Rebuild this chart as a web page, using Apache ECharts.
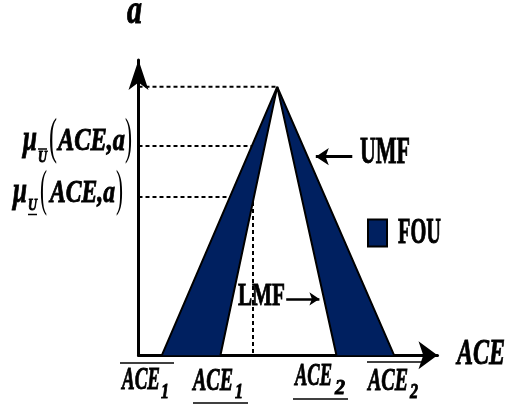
<!DOCTYPE html>
<html>
<head>
<meta charset="utf-8">
<script src="https://cdn.jsdelivr.net/npm/echarts@6/dist/echarts.min.js"></script>
<style>
  html, body { margin: 0; padding: 0; background: #fff; }
  #chart { width: 512px; height: 406px; }
</style>
</head>
<body>
<div id="chart"></div>
<script>
// Interval type-2 fuzzy set over ACE: upper and lower triangular membership functions
const umf = [[0.78, 0], [4.64, 1], [8.55, 0]];
const lmf = [[2.74, 0], [4.64, 1], [6.62, 0]];
// Footprint of uncertainty: the two bands lying between UMF and LMF
const fouBands = [
  [umf[0], umf[1], lmf[0]],
  [lmf[2], umf[1], umf[2]]
];
// Membership grades at one ACE value
const cutX = 3.83;
const muUpper = 0.78;
const muLower = 0.59;
const guides = [
  [[0, 1], umf[1]],
  [[0, muUpper], [cutX, muUpper]],
  [[0, muLower], [cutX, muLower]],
  [[cutX, muUpper], [cutX, 0]]
];
// Pointer arrows naming the two membership functions
const umfPointer = [[7.15, 0.74], [5.93, 0.74]];
const lmfPointer = [[4.94, 0.21], [6.05, 0.21]];
const seriesNames = ['FOU', 'UMF', 'LMF'];

const NAVY = '#002060';
const INK = '#000';
const FAMILY = 'Liberation Serif';

const chart = echarts.init(document.getElementById('chart'), null, { renderer: 'canvas' });

const axisCommon = {
  type: 'value',
  axisTick: { show: false },
  axisLabel: { show: false },
  splitLine: { show: false }
};

const option = {
  animation: false,
  backgroundColor: '#fff',
  grid: { left: 138.5, right: 74.5, top: 60, bottom: 50.7, containLabel: false, outerBoundsMode: 'none' },
  xAxis: Object.assign({}, axisCommon, {
    min: 0, max: 10,
    axisLine: { show: true, symbol: ['none', 'arrow'], symbolSize: [21, 19], lineStyle: { color: INK, width: 3 } }
  }),
  yAxis: Object.assign({}, axisCommon, {
    min: 0, max: 1.1,
    axisLine: { show: true, symbol: ['none', 'arrow'], symbolSize: [15, 30], lineStyle: { color: INK, width: 3 } }
  }),
  legend: {
    data: [seriesNames[0]],
    left: 367, top: 218.5, padding: 0,
    itemWidth: 19, itemHeight: 27, icon: 'rect',
    itemStyle: { borderColor: INK, borderWidth: 2 },
    formatter: () => '',
    selectedMode: false
  },
  series: [
    {
      type: 'custom',
      name: seriesNames[0],
      itemStyle: { color: NAVY },
      data: fouBands.map((b, i) => [b[1][0], i]),
      renderItem: (params, api) => ({
        type: 'polygon',
        shape: { points: fouBands[params.dataIndex].map(p => api.coord(p)) },
        style: { fill: NAVY }
      }),
      z: 2
    },
    {
      type: 'line',
      name: seriesNames[1],
      data: umf,
      symbol: 'none',
      lineStyle: { color: INK, width: 2 },
      z: 3,
      markLine: {
        silent: true,
        symbol: ['none', 'arrow'],
        symbolSize: [13, 13],
        label: { show: false },
        lineStyle: { color: INK, width: 3, type: 'solid' },
        data: [[{ coord: umfPointer[0] }, { coord: umfPointer[1] }]]
      }
    },
    {
      type: 'line',
      name: seriesNames[2],
      data: lmf,
      symbol: 'none',
      lineStyle: { color: INK, width: 2 },
      z: 3,
      markLine: {
        silent: true,
        symbol: ['none', 'arrow'],
        symbolSize: [10, 10],
        label: { show: false },
        lineStyle: { color: INK, width: 2.5, type: 'solid' },
        data: [[{ coord: lmfPointer[0] }, { coord: lmfPointer[1] }]]
      }
    }
  ].concat(guides.map(g => ({
    type: 'line',
    data: g,
    symbol: 'none',
    silent: true,
    lineStyle: { color: INK, width: 2, type: [4, 3] },
    z: 1
  })))
};
chart.setOption(option);

// ---- Typeset annotations (condensed heavy serif, drawn as graphic text) ----
const measureCtx = document.createElement('canvas').getContext('2d');
function widthOf(text, style, weight, size) {
  measureCtx.font = style + ' ' + weight + ' ' + size + 'px "' + FAMILY + '"';
  return measureCtx.measureText(text).width;
}

const BI = ['italic', 'bold'], B = ['normal', 'bold'], R = ['normal', 'normal'];
// [text, style, size, left x, drawn width, baseline y]
const pieces = [
  ['a', BI, 39, 127, 15, 26],
  ['ACE', BI, 35, 457, 48, 367],
  ['UMF', B, 37, 360, 50, 166],
  ['FOU', B, 36, 398, 43, 246],
  ['LMF', B, 32, 238, 47, 308],
  // upper membership grade
  ['\u03bc', BI, 36, 23, 14, 153],
  ['U', BI, 17, 38, 9, 163],
  ['(', R, 51, 49, 8, 157],
  ['ACE,a', BI, 31, 58, 67, 153],
  [')', R, 51, 125, 7, 157],
  // lower membership grade
  ['\u03bc', BI, 36, 13, 14, 205],
  ['U', BI, 17, 28, 9, 211],
  ['(', R, 51, 40, 7, 209],
  ['ACE,a', BI, 31, 50, 65, 205],
  [')', R, 51, 116, 7, 209],
  // interval end points on the ACE axis
  ['ACE', BI, 32, 122, 38, 392], ['1', BI, 20, 161, 8, 400],
  ['ACE', BI, 32, 193, 40, 393], ['1', BI, 20, 235, 8, 400],
  ['ACE', BI, 32, 295, 37, 388], ['2', BI, 20, 335, 10, 396],
  ['ACE', BI, 32, 368, 40, 393], ['2', BI, 20, 410, 8, 400]
];
// over/under bars: [x1, x2, y]
const bars = [
  [38, 47, 149],
  [28, 37, 214.5],
  [120, 174, 363],
  [193, 248, 403],
  [293, 348, 399],
  [367, 422, 362]
];

const graphic = pieces.map(([text, st, size, x, w, base]) => {
  const natural = widthOf(text, st[0], st[1], size) || w;
  const heavy = st[1] === 'bold';
  return {
    type: 'text',
    x: x,
    y: base - 0.34 * size,
    scaleX: w / natural,
    z: 100,
    silent: true,
    style: {
      text: text,
      fontFamily: FAMILY,
      fontStyle: st[0],
      fontWeight: st[1],
      fontSize: size,
      fill: INK,
      stroke: heavy ? INK : null,
      lineWidth: heavy ? 0.9 : 0,
      align: 'left',
      verticalAlign: 'middle'
    }
  };
}).concat(bars.map(([x1, x2, y]) => ({
  type: 'line',
  z: 100,
  silent: true,
  shape: { x1: x1, y1: y, x2: x2, y2: y },
  style: { stroke: INK, lineWidth: 1.5 }
})));

chart.setOption({ graphic: graphic });
</script>
</body>
</html>
